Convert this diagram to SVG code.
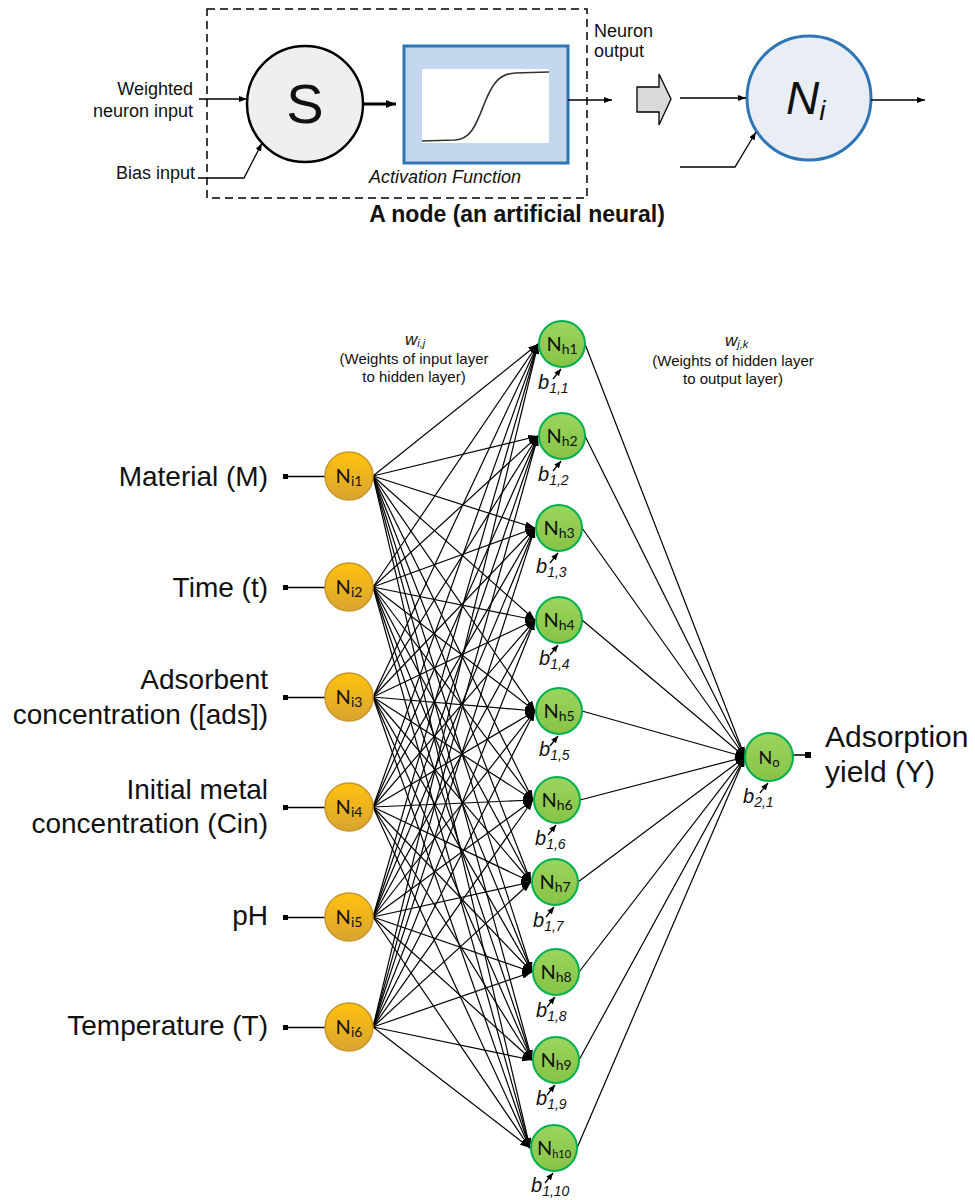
<svg xmlns="http://www.w3.org/2000/svg" width="975" height="1200" viewBox="0 0 975 1200">
<defs>
<style>
.t{font-family:"Liberation Sans",Arial,sans-serif;fill:#111}
.lab{font-family:"Liberation Sans",Arial,sans-serif;font-size:28px;fill:#111}
.nl{font-family:Lato,"Liberation Sans",sans-serif;font-size:20px;fill:#111}
.bl{font-family:"Liberation Sans",Arial,sans-serif;font-style:italic;font-size:20px;fill:#111}
.e{stroke:#000;stroke-width:1.2;fill:none;marker-end:url(#ahn)}
.ln{stroke:#000;stroke-width:1.3;fill:none}
.inn{fill:url(#og);stroke:#c8952a;stroke-width:1.5}
.hid{fill:url(#gg);stroke:#00b050;stroke-width:2}
</style>
<linearGradient id="og" x1="0" y1="0" x2="0" y2="1"><stop offset="0" stop-color="#ffc20e"/><stop offset="1" stop-color="#d9a431"/></linearGradient>
<linearGradient id="gg" x1="0" y1="0" x2="0" y2="1"><stop offset="0" stop-color="#9bd45e"/><stop offset="1" stop-color="#86c446"/></linearGradient>
<marker id="ah" viewBox="0 0 8 6" refX="8" refY="3" markerWidth="8" markerHeight="6" markerUnits="userSpaceOnUse" orient="auto"><path d="M0,0L8,3L0,6z" fill="#000"/></marker>
<marker id="ahn" viewBox="0 0 10 7" refX="10" refY="3.5" markerWidth="10" markerHeight="7" markerUnits="userSpaceOnUse" orient="auto"><path d="M0,0L10,3.5L0,7z" fill="#000"/></marker>
<marker id="ahb" viewBox="0 0 10 8" refX="10" refY="4" markerWidth="10" markerHeight="8" markerUnits="userSpaceOnUse" orient="auto"><path d="M0,0L10,4L0,8z" fill="#000"/></marker>
<marker id="ahs" viewBox="0 0 7 6" refX="7" refY="3" markerWidth="7" markerHeight="6" markerUnits="userSpaceOnUse" orient="auto"><path d="M0,0L7,3L0,6z" fill="#000"/></marker>
</defs>
<rect width="975" height="1200" fill="#fff"/>

<!-- Top: node schematic -->
<g id="node-schematic">
<rect x="207" y="9" width="380" height="189" fill="none" stroke="#000" stroke-width="1.5" stroke-dasharray="8,5"/>
<text class="t" x="517" y="222" font-size="23" font-weight="bold" text-anchor="middle">A node (an artificial neural)</text>
</g>
<g id="sum-node">
<circle cx="305" cy="104" r="58" fill="#efefef" stroke="#000" stroke-width="2.5"/>
<text class="t" x="305" y="123" font-size="56" text-anchor="middle">S</text>
</g>
<g id="activation">
<rect x="404" y="46" width="164" height="117" fill="#c5d7ef" stroke="#2e75b6" stroke-width="3"/>
<rect x="422" y="69" width="127" height="74" fill="#fff"/>
<path d="M422,141L455,140C472,139 477,122 485,102C493,82 500,74 515,73L549,72" fill="none" stroke="#333" stroke-width="1.6"/>
<text class="t" x="369" y="183" font-size="18" font-style="italic">Activation Function</text>
</g>
<g id="top-labels">
<text class="t" x="193" y="95" font-size="18" text-anchor="end">Weighted</text>
<text class="t" x="193" y="117" font-size="18" text-anchor="end">neuron input</text>
<text class="t" x="195" y="179" font-size="18" text-anchor="end">Bias input</text>
<text class="t" x="594" y="37" font-size="18">Neuron</text>
<text class="t" x="594" y="57" font-size="18">output</text>
</g>
<g id="block-arrow">
<path d="M637,87L659,87L659,74L671,99L659,125L659,112L637,112Z" fill="#d9d9d9" stroke="#000" stroke-width="1.3"/>
</g>
<g id="ni-node">
<circle cx="809" cy="98" r="62" fill="#e9edf5" stroke="#2e75b6" stroke-width="3"/>
<text class="t" x="786" y="114" font-size="46" font-style="italic">N<tspan font-size="28" dy="6">i</tspan></text>
</g>
<g id="top-connectors">
<path class="ln" d="M199,99L247,99" marker-end="url(#ah)"/>
<path class="ln" d="M198,178L244,178L262,143" marker-end="url(#ah)"/>
<path d="M363,104L396,104" stroke="#000" stroke-width="2.8" fill="none" marker-end="url(#ahb)"/>
<path class="ln" d="M568,100L612,100" marker-end="url(#ah)"/>
<path class="ln" d="M680,98L746,98" marker-end="url(#ah)"/>
<path class="ln" d="M680,167L735,167L756,132" marker-end="url(#ah)"/>
<path class="ln" d="M871,100L925,100" marker-end="url(#ah)"/>
</g>

<!-- Network connectors -->
<g id="connectors">
<path class="e" d="M373,476L538,344"/><path class="e" d="M373,476L538,436"/><path class="e" d="M373,476L535,528"/><path class="e" d="M373,476L535,620"/><path class="e" d="M373,476L535,711"/><path class="e" d="M373,476L533,800"/><path class="e" d="M373,476L531,882"/><path class="e" d="M373,476L532,972"/><path class="e" d="M373,476L532,1060"/><path class="e" d="M373,476L530,1148"/>
<path class="e" d="M373,587L538,344"/><path class="e" d="M373,587L538,436"/><path class="e" d="M373,587L535,528"/><path class="e" d="M373,587L535,620"/><path class="e" d="M373,587L535,711"/><path class="e" d="M373,587L533,800"/><path class="e" d="M373,587L531,882"/><path class="e" d="M373,587L532,972"/><path class="e" d="M373,587L532,1060"/><path class="e" d="M373,587L530,1148"/>
<path class="e" d="M373,697L538,344"/><path class="e" d="M373,697L538,436"/><path class="e" d="M373,697L535,528"/><path class="e" d="M373,697L535,620"/><path class="e" d="M373,697L535,711"/><path class="e" d="M373,697L533,800"/><path class="e" d="M373,697L531,882"/><path class="e" d="M373,697L532,972"/><path class="e" d="M373,697L532,1060"/><path class="e" d="M373,697L530,1148"/>
<path class="e" d="M373,807L538,344"/><path class="e" d="M373,807L538,436"/><path class="e" d="M373,807L535,528"/><path class="e" d="M373,807L535,620"/><path class="e" d="M373,807L535,711"/><path class="e" d="M373,807L533,800"/><path class="e" d="M373,807L531,882"/><path class="e" d="M373,807L532,972"/><path class="e" d="M373,807L532,1060"/><path class="e" d="M373,807L530,1148"/>
<path class="e" d="M373,917L538,344"/><path class="e" d="M373,917L538,436"/><path class="e" d="M373,917L535,528"/><path class="e" d="M373,917L535,620"/><path class="e" d="M373,917L535,711"/><path class="e" d="M373,917L533,800"/><path class="e" d="M373,917L531,882"/><path class="e" d="M373,917L532,972"/><path class="e" d="M373,917L532,1060"/><path class="e" d="M373,917L530,1148"/>
<path class="e" d="M373,1027L538,344"/><path class="e" d="M373,1027L538,436"/><path class="e" d="M373,1027L535,528"/><path class="e" d="M373,1027L535,620"/><path class="e" d="M373,1027L535,711"/><path class="e" d="M373,1027L533,800"/><path class="e" d="M373,1027L531,882"/><path class="e" d="M373,1027L532,972"/><path class="e" d="M373,1027L532,1060"/><path class="e" d="M373,1027L530,1148"/>
<path class="e" d="M585,344L745,757"/><path class="e" d="M585,436L745,757"/><path class="e" d="M582,528L745,757"/><path class="e" d="M582,620L745,757"/><path class="e" d="M582,711L745,757"/><path class="e" d="M580,800L745,757"/><path class="e" d="M578,882L745,757"/><path class="e" d="M579,972L745,757"/><path class="e" d="M579,1060L745,757"/><path class="e" d="M577,1148L745,757"/>
<!-- input feed lines -->
<g fill="#000">
<rect x="283" y="474" width="5" height="5"/><rect x="283" y="585" width="5" height="5"/><rect x="283" y="695" width="5" height="5"/><rect x="283" y="805" width="5" height="5"/><rect x="283" y="915" width="5" height="5"/><rect x="283" y="1025" width="5" height="5"/>
<rect x="805" y="752" width="6" height="6"/>
</g>
<path class="ln" d="M287,476.5L325,476.5M287,587.5L325,587.5M287,697.5L325,697.5M287,807.5L325,807.5M287,917.5L325,917.5M287,1027.5L325,1027.5M793,755L806,755"/>
<!-- bias arrows -->
<g stroke="#000" stroke-width="1.3" fill="none">
<path d="M553,379L561,369" marker-end="url(#ahs)"/>
<path d="M553,471L561,461" marker-end="url(#ahs)"/>
<path d="M550,563L558,553" marker-end="url(#ahs)"/>
<path d="M550,655L558,645" marker-end="url(#ahs)"/>
<path d="M550,746L558,736" marker-end="url(#ahs)"/>
<path d="M548,835L556,825" marker-end="url(#ahs)"/>
<path d="M546,917L554,907" marker-end="url(#ahs)"/>
<path d="M547,1007L555,997" marker-end="url(#ahs)"/>
<path d="M547,1095L555,1085" marker-end="url(#ahs)"/>
<path d="M545,1183L553,1173" marker-end="url(#ahs)"/>
<path d="M760,793L768,783" marker-end="url(#ahs)"/>
</g>
</g>

<!-- Weight labels -->
<g id="weight-labels">
<text class="t" x="405" y="345" font-size="17" font-style="italic">w<tspan font-size="11" dy="2">i,j</tspan></text>
<text class="t" x="414" y="364" font-size="15" text-anchor="middle">(Weights of input layer</text>
<text class="t" x="414" y="382" font-size="15" text-anchor="middle">to hidden layer)</text>
<text class="t" x="725" y="346" font-size="17" font-style="italic">w<tspan font-size="11" dy="2">j,k</tspan></text>
<text class="t" x="733" y="366" font-size="15" text-anchor="middle">(Weights of hidden layer</text>
<text class="t" x="733" y="384" font-size="15" text-anchor="middle">to output layer)</text>
</g>

<!-- Input labels -->
<g id="input-labels">
<text class="lab" x="268" y="486" text-anchor="end">Material (M)</text>
<text class="lab" x="268" y="597" text-anchor="end">Time (t)</text>
<text class="lab" x="268" y="689" text-anchor="end">Adsorbent</text>
<text class="lab" x="268" y="724" text-anchor="end">concentration ([ads])</text>
<text class="lab" x="268" y="799" text-anchor="end">Initial metal</text>
<text class="lab" x="268" y="833" text-anchor="end">concentration (Cin)</text>
<text class="lab" x="268" y="925" text-anchor="end">pH</text>
<text class="lab" x="268" y="1035" text-anchor="end">Temperature (T)</text>
<text class="lab" x="825" y="747" style="font-size:30px">Adsorption</text>
<text class="lab" x="825" y="782" style="font-size:30px">yield (Y)</text>
</g>

<!-- Input nodes -->
<g id="Ni1"><circle class="inn" cx="349" cy="476" r="24"/><text class="nl" x="349" y="483" text-anchor="middle">N<tspan font-size="14" dy="3">i1</tspan></text></g>
<g id="Ni2"><circle class="inn" cx="349" cy="587" r="24"/><text class="nl" x="349" y="594" text-anchor="middle">N<tspan font-size="14" dy="3">i2</tspan></text></g>
<g id="Ni3"><circle class="inn" cx="349" cy="697" r="24"/><text class="nl" x="349" y="704" text-anchor="middle">N<tspan font-size="14" dy="3">i3</tspan></text></g>
<g id="Ni4"><circle class="inn" cx="349" cy="807" r="24"/><text class="nl" x="349" y="814" text-anchor="middle">N<tspan font-size="14" dy="3">i4</tspan></text></g>
<g id="Ni5"><circle class="inn" cx="349" cy="917" r="24"/><text class="nl" x="349" y="924" text-anchor="middle">N<tspan font-size="14" dy="3">i5</tspan></text></g>
<g id="Ni6"><circle class="inn" cx="349" cy="1027" r="24"/><text class="nl" x="349" y="1034" text-anchor="middle">N<tspan font-size="14" dy="3">i6</tspan></text></g>

<!-- Hidden nodes -->
<g id="Nh1"><circle class="hid" cx="562" cy="344" r="23"/><text class="nl" x="562" y="351" text-anchor="middle">N<tspan font-size="14" dy="3">h1</tspan></text><text class="bl" x="538" y="389">b<tspan font-size="14" dy="4">1,1</tspan></text></g>
<g id="Nh2"><circle class="hid" cx="562" cy="436" r="23"/><text class="nl" x="562" y="443" text-anchor="middle">N<tspan font-size="14" dy="3">h2</tspan></text><text class="bl" x="538" y="481">b<tspan font-size="14" dy="4">1,2</tspan></text></g>
<g id="Nh3"><circle class="hid" cx="559" cy="528" r="23"/><text class="nl" x="559" y="535" text-anchor="middle">N<tspan font-size="14" dy="3">h3</tspan></text><text class="bl" x="536" y="573">b<tspan font-size="14" dy="4">1,3</tspan></text></g>
<g id="Nh4"><circle class="hid" cx="559" cy="620" r="23"/><text class="nl" x="559" y="627" text-anchor="middle">N<tspan font-size="14" dy="3">h4</tspan></text><text class="bl" x="539" y="665">b<tspan font-size="14" dy="4">1,4</tspan></text></g>
<g id="Nh5"><circle class="hid" cx="559" cy="711" r="23"/><text class="nl" x="559" y="718" text-anchor="middle">N<tspan font-size="14" dy="3">h5</tspan></text><text class="bl" x="539" y="756">b<tspan font-size="14" dy="4">1,5</tspan></text></g>
<g id="Nh6"><circle class="hid" cx="557" cy="800" r="23"/><text class="nl" x="557" y="807" text-anchor="middle">N<tspan font-size="14" dy="3">h6</tspan></text><text class="bl" x="535" y="845">b<tspan font-size="14" dy="4">1,6</tspan></text></g>
<g id="Nh7"><circle class="hid" cx="555" cy="882" r="23"/><text class="nl" x="555" y="889" text-anchor="middle">N<tspan font-size="14" dy="3">h7</tspan></text><text class="bl" x="533" y="927">b<tspan font-size="14" dy="4">1,7</tspan></text></g>
<g id="Nh8"><circle class="hid" cx="556" cy="972" r="23"/><text class="nl" x="556" y="979" text-anchor="middle">N<tspan font-size="14" dy="3">h8</tspan></text><text class="bl" x="536" y="1017">b<tspan font-size="14" dy="4">1,8</tspan></text></g>
<g id="Nh9"><circle class="hid" cx="556" cy="1060" r="23"/><text class="nl" x="556" y="1067" text-anchor="middle">N<tspan font-size="14" dy="3">h9</tspan></text><text class="bl" x="536" y="1105">b<tspan font-size="14" dy="4">1,9</tspan></text></g>
<g id="Nh10"><circle class="hid" cx="554" cy="1148" r="23"/><text class="nl" x="554" y="1155" text-anchor="middle">N<tspan font-size="11" dy="3">h10</tspan></text><text class="bl" x="531" y="1192">b<tspan font-size="14" dy="4">1,10</tspan></text></g>

<!-- Output node -->
<g id="No"><circle class="hid" cx="769" cy="757" r="24"/><text class="nl" x="769" y="764" text-anchor="middle" style="font-size:18px">N<tspan font-size="13" dy="3">o</tspan></text><text class="bl" x="743" y="803">b<tspan font-size="14" dy="4">2,1</tspan></text></g>
</svg>
